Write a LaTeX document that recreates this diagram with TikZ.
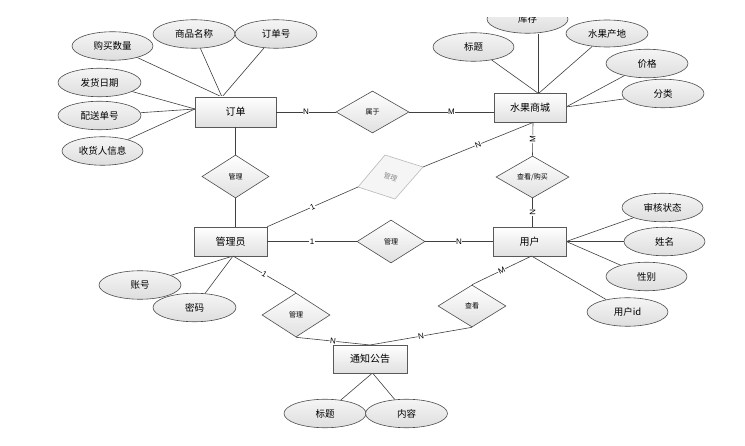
\documentclass[tikz,border=0pt]{standalone}
\usepackage{fontspec}
\setmainfont{Noto Sans CJK SC}
\newfontfamily\latinsans{Liberation Sans}
\usetikzlibrary{shapes.geometric}
\pgfdeclarelayer{bg}
\pgfsetlayers{bg,main}
\tikzset{
 entity/.style={draw=black!65, line width=0.6pt, top color=white, bottom color=black!12, minimum width=73pt, minimum height=29pt, inner sep=1pt, font=\fontsize{10}{12}\selectfont},
 attr/.style={ellipse, draw=black!70, line width=0.6pt, top color=black!4, bottom color=black!13, minimum width=82pt, minimum height=28.5pt, inner sep=0pt, font=\fontsize{9.5}{11}\selectfont},
 rel/.style={diamond, draw=black!70, line width=0.6pt, top color=white, bottom color=black!12, minimum width=68pt, minimum height=43pt, inner sep=0pt, font=\fontsize{7}{8}\selectfont},
 conn/.style={draw=black!75, line width=0.6pt},
 card/.style={fill=white, inner sep=0.6pt, font=\latinsans\fontsize{8}{9}\selectfont},
}
\begin{document}
\begin{tikzpicture}[x=1pt,y=-1pt]
\useasboundingbox (0,0) rectangle (745,446);
% entities
\node[entity, minimum width=81pt, minimum height=30pt] (order) at (235.5,112) {订单};
\node[entity, minimum width=72pt] (mall) at (530,108) {水果商城};
\node[entity] (admin) at (230.5,241.5) {管理员};
\node[entity] (user) at (529.5,241.5) {用户};
\node[entity, minimum width=74pt, minimum height=28pt] (notice) at (370,359) {通知公告};
% relations
\node[rel, minimum width=73pt, minimum height=42pt] (belong) at (372.5,112) {属于};
\node[rel, minimum width=67pt] (manage1) at (235.5,176.5) {管理};
\node[rel, minimum width=73pt, minimum height=42pt] (view1) at (532.5,177) {查看/购买};
\node[rel] (manage2) at (391,241.5) {管理};
\node[rel, minimum height=44pt] (manage3) at (296,315) {管理};
\node[rel, minimum height=42pt] (view2) at (472,306) {查看};
% faded relation
\coordinate (fT) at (385,155);
\coordinate (fR) at (423,167);
\coordinate (fB) at (395,199);
\coordinate (fL) at (358,187);
\draw[draw=black!28, line width=0.6pt, fill=black!4] (fT) -- (fR) -- (fB) -- (fL) -- cycle;
\node[text=black!45, rotate=-20, font=\fontsize{7}{8}\selectfont] (manage4) at (390.5,177) {管理};
% attributes of order
\node[attr, minimum width=81pt] (qty) at (112.5,46) {购买数量};
\node[attr] (pname) at (194,34) {商品名称};
\node[attr] (ono) at (276,34) {订单号};
\node[attr, minimum width=83pt] (sdate) at (99.5,82.5) {发货日期};
\node[attr, minimum width=83pt] (dno) at (99.5,115.5) {配送单号};
\node[attr, minimum width=81pt] (rinfo) at (102.5,151) {收货人信息};
% attributes of mall
\begin{scope}
\clip (470,18) rectangle (600,60);
\node[attr, minimum width=81pt] (stock) at (527.5,19) {库存};
\end{scope}
\node[attr, minimum width=81pt] (mtitle) at (473.5,47) {标题};
\node[attr, minimum height=27pt] (origin) at (607,33.5) {水果产地};
\node[attr] (price) at (647,63.5) {价格};
\node[attr] (cat) at (663,93.5) {分类};
% attributes of user
\node[attr, minimum width=81pt] (audit) at (662.5,207.5) {审核状态};
\node[attr, minimum width=81pt] (uname) at (664.5,241.5) {姓名};
\node[attr, minimum width=81pt] (sex) at (646.5,276.5) {性别};
\node[attr, minimum width=81pt] (uid) at (627.5,312) {用户id};
% attributes of admin
\node[attr] (acct) at (140,285) {账号};
\node[attr, minimum width=83pt] (pwd) at (194.5,307.5) {密码};
% attributes of notice
\node[attr] (ntitle) at (325,413.5) {标题};
\node[attr] (ncont) at (406.5,413.5) {内容};
% anchor points
\coordinate (oTop) at (222,97);
\coordinate (oLeft) at (195,109);
\coordinate (mTop) at (538.5,93.5);
\coordinate (mRight) at (566,107);
\coordinate (aBot) at (233,256);
\coordinate (nTop) at (370,345);
\coordinate (nBot) at (372.5,373);
\coordinate (uBot) at (531.5,256);
\coordinate (mBot) at (533,122.5);
\begin{pgfonlayer}{bg}
\draw[conn] (qty) -- (oTop);
\draw[conn] (pname) -- (oTop);
\draw[conn] (ono) -- (oTop);
\draw[conn] (sdate) -- (oLeft);
\draw[conn] (dno) -- (oLeft);
\draw[conn] (rinfo) -- (oLeft);
\draw[conn] (mtitle) -- (mTop);
\draw[conn] (mTop) -- (mTop |- stock.south);
\draw[conn] (origin) -- (mTop);
\draw[conn] (price) -- (mRight);
\draw[conn] (cat) -- (mRight);
\draw[conn] (user.east) -- (audit);
\draw[conn] (user.east) -- (uname);
\draw[conn] (user.east) -- (sex);
\draw[conn] (uBot) -- (uid);
\draw[conn] (acct) -- (aBot);
\draw[conn] (pwd) -- (aBot);
\draw[conn] (ntitle) -- (nBot);
\draw[conn] (ncont) -- (nBot);
\end{pgfonlayer}
% relationship connectors
\draw[conn] (order.east) -- node[card] {N} (belong.west);
\draw[conn] (belong.east) -- node[card] {M} (belong.east -| mall.west);
\draw[conn] (order.south -| manage1) -- (manage1.north);
\draw[conn] (manage1.south) -- (manage1.south |- admin.north);
\draw[conn] (admin.north east) -- node[card, sloped] {1} (fL);
\draw[conn] (fR) -- node[card, sloped] {N} (mBot);
\draw[conn] (mBot) -- node[card, sloped] {M} (view1.north);
\draw[conn] (view1.south) -- node[card, sloped] {N} (view1.south |- user.north);
\draw[conn] (admin.east) -- node[card] {1} (manage2.west);
\draw[conn] (manage2.east) -- node[card] {N} (user.west);
\draw[conn] (aBot) -- node[card, sloped] {1} (manage3.north);
\draw[conn] (manage3.south) -- node[card, sloped] {N} (nTop);
\draw[conn] (uBot) -- node[card, sloped] {M} (view2.north);
\draw[conn] (view2.south) -- node[card, sloped] {N} (nTop);
\end{tikzpicture}
\end{document}
